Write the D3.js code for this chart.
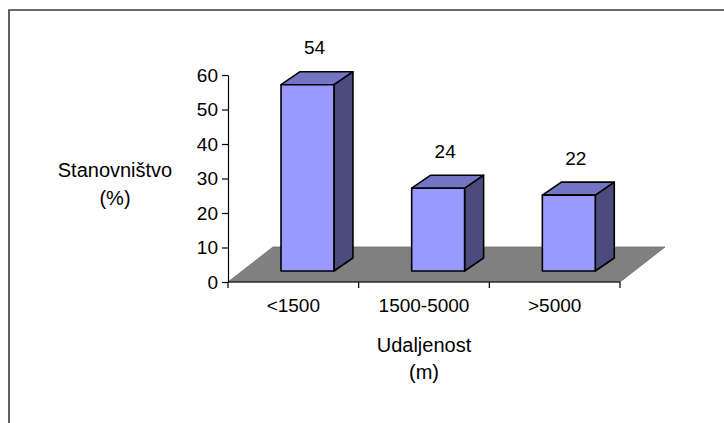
<!DOCTYPE html>
<html>
<head>
<meta charset="utf-8">
<script src="https://cdn.jsdelivr.net/npm/d3@7"></script>
<style>
	html, body { margin: 0; padding: 0; background: #fff; }
	svg { display: block; font-family: "Liberation Sans", Arial, sans-serif; }
</style>
</head>
<body>
<svg id="chart" width="724" height="423"></svg>
<script>
var categories = [ '<1500', '1500-5000', '>5000' ];
var values = [ 54, 24, 22 ];
var yTicks = [ 0, 10, 20, 30, 40, 50, 60 ];
var yTitle = [ 'Stanovništvo', '(%)' ];
var xTitle = [ 'Udaljenost', '(m)' ];

var svg = d3.select( '#chart' );
var fontSize = 19;
var titleSize = 20;

// frame line (left and top only, like the source)
svg.append( 'path' )
	.attr( 'd', 'M9,423V10H724' )
	.attr( 'fill', 'none' )
	.attr( 'stroke', '#3a3a3a' )
	.attr( 'stroke-width', 1.6 );

var x = d3.scaleBand()
	.domain( categories )
	.range( [ 228, 620 ] )
	.padding( 0 );

var y = d3.scaleLinear()
	.domain( [ 0, 60 ] )
	.range( [ 282, 75 ] );

// depth of floor and bars (oblique projection)
var floorDx = 45, floorDy = 35;
var barDx = 19, barDy = 13;
var depthFrac = 11 / 35; // front of bars sits this far into the floor
var barW = x.bandwidth() * 0.405;

var g = svg.append( 'g' );

// floor
var x0 = x.range()[ 0 ], x1 = x.range()[ 1 ], y0 = y( 0 );
g.append( 'path' )
	.attr( 'd', 'M' + x0 + ',' + y0 + 'L' + x1 + ',' + y0 +
		'L' + ( x1 + floorDx ) + ',' + ( y0 - floorDy ) +
		'L' + ( x0 + floorDx ) + ',' + ( y0 - floorDy ) + 'Z' )
	.attr( 'fill', '#808080' )
	.attr( 'stroke', '#6e6e6e' )
	.attr( 'stroke-width', 0.8 );

// y axis
g.append( 'g' )
	.attr( 'transform', 'translate(' + x0 + ',0)' )
	.call( d3.axisLeft( y ).tickValues( yTicks ).tickSize( 6 ).tickSizeOuter( 0 ).tickPadding( 4 ) )
	.call( function( a ) {
		a.selectAll( 'text' ).attr( 'font-size', fontSize ).attr( 'fill', '#000' );
		a.attr( 'font-family', null ).attr( 'font-size', null );
		a.selectAll( 'line, path' ).attr( 'stroke', '#000' ).attr( 'stroke-width', 1.2 );
	} );

// x axis (ticks at band boundaries, labels at band centres)
var xAxis = g.append( 'g' ).attr( 'transform', 'translate(0,' + y0 + ')' );
xAxis.append( 'line' )
	.attr( 'x1', x0 ).attr( 'x2', x1 )
	.attr( 'stroke', '#000' ).attr( 'stroke-width', 1.2 );
var edges = categories.map( function( c ) { return x( c ); } ).concat( [ x1 ] );
xAxis.selectAll( 'line.tick' )
	.data( edges )
	.enter().append( 'line' )
	.attr( 'class', 'tick' )
	.attr( 'x1', function( d ) { return d; } )
	.attr( 'x2', function( d ) { return d; } )
	.attr( 'y1', 0 ).attr( 'y2', 6 )
	.attr( 'stroke', '#000' ).attr( 'stroke-width', 1.2 );
xAxis.selectAll( 'text' )
	.data( categories )
	.enter().append( 'text' )
	.attr( 'x', function( d ) { return x( d ) + x.bandwidth() / 2; } )
	.attr( 'y', 23 )
	.attr( 'dy', '0.35em' )
	.attr( 'text-anchor', 'middle' )
	.attr( 'font-size', fontSize )
	.text( function( d ) { return d; } );

// bars
var offX = floorDx * depthFrac, offY = floorDy * depthFrac;
var bars = g.selectAll( 'g.bar' )
	.data( values )
	.enter().append( 'g' )
	.attr( 'class', 'bar' );

function barLeft( d, i ) { return x( categories[ i ] ) + ( x.bandwidth() - barW ) / 2 + offX; }
function barBottom() { return y0 - offY; }
function barTop( d ) { return y( d ) - offY; }

bars.append( 'path' ) // side
	.attr( 'd', function( d, i ) {
		var r = barLeft( d, i ) + barW;
		return 'M' + r + ',' + barBottom() + 'L' + ( r + barDx ) + ',' + ( barBottom() - barDy ) +
			'L' + ( r + barDx ) + ',' + ( barTop( d ) - barDy ) + 'L' + r + ',' + barTop( d ) + 'Z';
	} )
	.attr( 'fill', '#4b4b7d' );

bars.append( 'path' ) // top
	.attr( 'd', function( d, i ) {
		var l = barLeft( d, i ), t = barTop( d );
		return 'M' + l + ',' + t + 'L' + ( l + barDx ) + ',' + ( t - barDy ) +
			'L' + ( l + barW + barDx ) + ',' + ( t - barDy ) + 'L' + ( l + barW ) + ',' + t + 'Z';
	} )
	.attr( 'fill', '#7474c4' );

bars.append( 'rect' ) // front
	.attr( 'x', barLeft )
	.attr( 'y', barTop )
	.attr( 'width', barW )
	.attr( 'height', function( d ) { return barBottom() - barTop( d ); } )
	.attr( 'fill', '#9999ff' );

bars.selectAll( 'path, rect' )
	.attr( 'stroke', '#000' )
	.attr( 'stroke-width', 1.6 )
	.attr( 'stroke-linejoin', 'round' );

// value labels
bars.append( 'text' )
	.attr( 'x', function( d, i ) { return barLeft( d, i ) + barW / 2 + 7; } )
	.attr( 'y', function( d ) { return barTop( d ) - barDy - 24; } )
	.attr( 'dy', '0.35em' )
	.attr( 'text-anchor', 'middle' )
	.attr( 'font-size', fontSize )
	.text( function( d ) { return d; } );

// axis titles
svg.append( 'g' ).selectAll( 'text' )
	.data( yTitle )
	.enter().append( 'text' )
	.attr( 'x', 115 )
	.attr( 'y', function( d, i ) { return 170 + i * 28; } )
	.attr( 'dy', '0.35em' )
	.attr( 'text-anchor', 'middle' )
	.attr( 'font-size', titleSize )
	.text( function( d ) { return d; } );

svg.append( 'g' ).selectAll( 'text' )
	.data( xTitle )
	.enter().append( 'text' )
	.attr( 'x', ( x0 + x1 ) / 2 )
	.attr( 'y', function( d, i ) { return 345 + i * 27; } )
	.attr( 'dy', '0.35em' )
	.attr( 'text-anchor', 'middle' )
	.attr( 'font-size', titleSize )
	.text( function( d ) { return d; } );
</script>
</body>
</html>
